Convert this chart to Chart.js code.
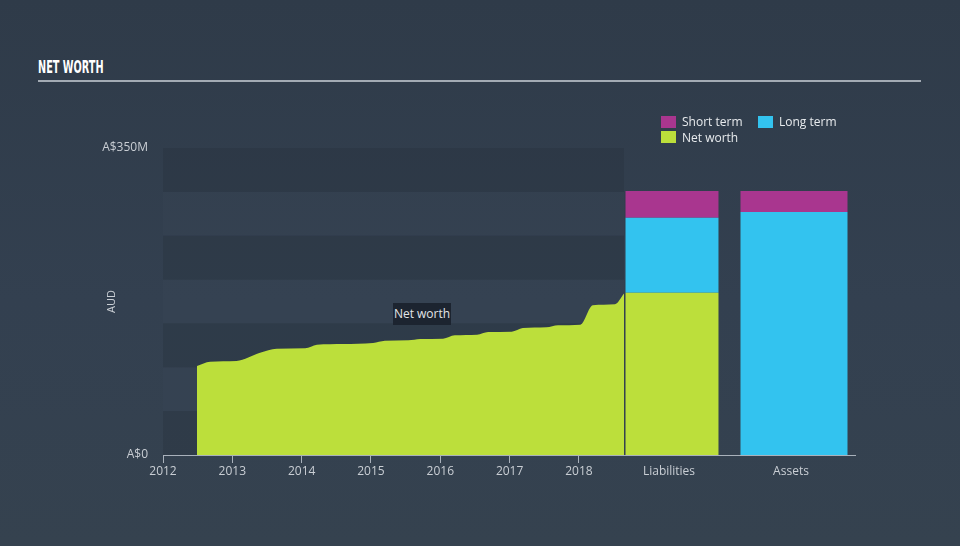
<!DOCTYPE html>
<html>
<head>
<meta charset="utf-8">
<script src="https://cdn.jsdelivr.net/npm/chart.js@4"></script>
<style>
  html, body { margin:0; padding:0; }
  body { width:960px; height:546px; overflow:hidden; position:relative;
         background: linear-gradient(180deg, #2f3b49 0%, #334050 55%, #35424f 100%);
         font-family:'Open Sans', sans-serif; }
  canvas { position:absolute; left:0; top:0; }
  #title { position:absolute; left:38px; top:56px; color:#ffffff; font-family:'Liberation Sans Narrow','DejaVu Sans Condensed',sans-serif;
           font-weight:bold; font-size:18px; transform:scaleX(0.6); transform-origin:left top; letter-spacing:0; white-space:nowrap; }
  #rule { position:absolute; left:38px; top:80px; width:883px; height:2px; background:#a3abb4; }
  .leg { position:absolute; color:#e8ebee; font-size:12px; line-height:14px; }
  .sw { position:absolute; width:15px; height:12px; }
  #tip { position:absolute; left:393px; top:303px; width:58px; height:22px; background:#1c2430; color:#e2e5e8;
         font-size:12px; line-height:22px; text-align:center; }
</style>
</head>
<body>
<div id="title">NET WORTH</div>
<div id="rule"></div>
<canvas id="area" width="960" height="546"></canvas>
<canvas id="bars" width="960" height="546"></canvas>
<div class="sw" style="left:661px;top:116px;background:#a9368f"></div>
<div class="leg" style="left:682px;top:115px">Short term</div>
<div class="sw" style="left:758px;top:116px;background:#33c3ef"></div>
<div class="leg" style="left:779px;top:115px">Long term</div>
<div class="sw" style="left:661px;top:131px;background:#bcdf3b"></div>
<div class="leg" style="left:682px;top:131px">Net worth</div>
<div id="tip">Net worth</div>
<script>
// ---- data ----
const areaYears  = [2012.49, 2012.68, 2013.06, 2013.40, 2013.64, 2014.05, 2014.22, 2014.60, 2015.03, 2015.20, 2015.54, 2015.71, 2016.04, 2016.21, 2016.53, 2016.69, 2017.03, 2017.19, 2017.53, 2017.70, 2018.02, 2018.20, 2018.52, 2018.65];
const areaValues = [101.5, 106.4, 107.2, 116.6, 121.2, 121.6, 125.8, 126.6, 127.7, 130.3, 130.8, 132.3, 132.6, 136.5, 137.2, 140.3, 140.6, 144.8, 145.6, 147.9, 148.6, 170.7, 171.8, 184];
const xMin = 2012, xMax = 2018.65;
const yTickValues = [0, 350];
const yTickLabels = ['A$0', 'A$350M'];
const bandEdges = [0, 50, 100, 150, 200, 250, 300, 350];

const barCategories = ['Liabilities', 'Assets'];
const liabNetWorth  = [185.1, null];
const liabLongTerm  = [85.5, null];
const liabShortTerm = [30.4, null];
const assetLongTerm  = [null, 277];
const assetShortTerm = [null, 24];

const GREEN = '#bcdf3b', CYAN = '#33c3ef', MAGENTA = '#a9368f';
const AXIS = '#a9b1bb', TXT = '#c9ced4';

Chart.defaults.font.family = "'Open Sans', sans-serif";
Chart.defaults.font.size = 12;
Chart.defaults.color = TXT;

const bandPlugin = {
  id: 'bands',
  beforeDatasetsDraw(chart) {
    const {ctx, chartArea, scales} = chart;
    ctx.save();
    for (let i = 0; i < bandEdges.length - 1; i++) {
      const y1 = scales.y.getPixelForValue(bandEdges[i]);
      const y2 = scales.y.getPixelForValue(bandEdges[i + 1]);
      ctx.fillStyle = (i % 2 === 0) ? 'rgba(30,40,52,0.22)' : 'rgba(80,95,110,0.08)';
      ctx.fillRect(chartArea.left, y2, chartArea.right - chartArea.left, y1 - y2);
    }
    ctx.restore();
  }
};

new Chart(document.getElementById('area'), {
  type: 'line',
  data: {
    datasets: [{
      data: areaYears.map((x, i) => ({x, y: areaValues[i]})),
      fill: 'origin',
      backgroundColor: GREEN,
      borderWidth: 0,
      pointRadius: 0,
      cubicInterpolationMode: 'monotone'
    }]
  },
  options: {
    responsive: false, animation: false, devicePixelRatio: 1,
    layout: { padding: { left: 88, right: 336, top: 148, bottom: 61 } },
    plugins: { legend: { display: false }, tooltip: { enabled: false } },
    scales: {
      x: {
        type: 'linear', min: xMin, max: xMax,
        afterFit(s) { s.height = 30; },
        afterBuildTicks(s) { const t = []; for (let v = xMin; v <= xMax; v++) t.push({value: v}); s.ticks = t; },
        ticks: { padding: 1, color: TXT, callback: v => String(v), autoSkip: false, maxRotation: 0 },
        grid: { drawOnChartArea: false, drawTicks: true, tickLength: 8, color: AXIS },
        border: { display: true, color: AXIS, width: 1 }
      },
      y: {
        min: 0, max: 350,
        afterFit(s) { s.width = 75; },
        afterBuildTicks(s) { s.ticks = yTickValues.map(v => ({value: v})); },
        ticks: { padding: 7, color: TXT, callback: (v) => yTickLabels[yTickValues.indexOf(v)] },
        grid: { display: false },
        border: { display: false },
        title: { display: true, text: 'AUD', color: TXT, font: { size: 11 }, padding: { top: 17, bottom: 0 } }
      }
    }
  },
  plugins: [bandPlugin]
});

new Chart(document.getElementById('bars'), {
  type: 'bar',
  data: {
    labels: barCategories,
    datasets: [
      { data: liabNetWorth,  backgroundColor: GREEN,   barPercentage: 0.762, categoryPercentage: 1 },
      { data: liabLongTerm,  backgroundColor: CYAN,    barPercentage: 0.762, categoryPercentage: 1 },
      { data: liabShortTerm, backgroundColor: MAGENTA, barPercentage: 0.762, categoryPercentage: 1 },
      { data: assetLongTerm,  backgroundColor: CYAN,    barPercentage: 0.877, categoryPercentage: 1 },
      { data: assetShortTerm, backgroundColor: MAGENTA, barPercentage: 0.877, categoryPercentage: 1 }
    ]
  },
  options: {
    responsive: false, animation: false, devicePixelRatio: 1,
    layout: { padding: { left: 611, right: 105, top: 148, bottom: 61 } },
    plugins: { legend: { display: false }, tooltip: { enabled: false } },
    scales: {
      x: {
        stacked: true,
        afterFit(s) { s.height = 30; },
        ticks: { padding: 9, color: TXT, labelOffset: -3 },
        grid: { drawOnChartArea: false, drawTicks: false },
        border: { display: true, color: AXIS, width: 1 }
      },
      y: { stacked: true, min: 0, max: 350, display: false }
    }
  }
});
</script>
</body>
</html>
